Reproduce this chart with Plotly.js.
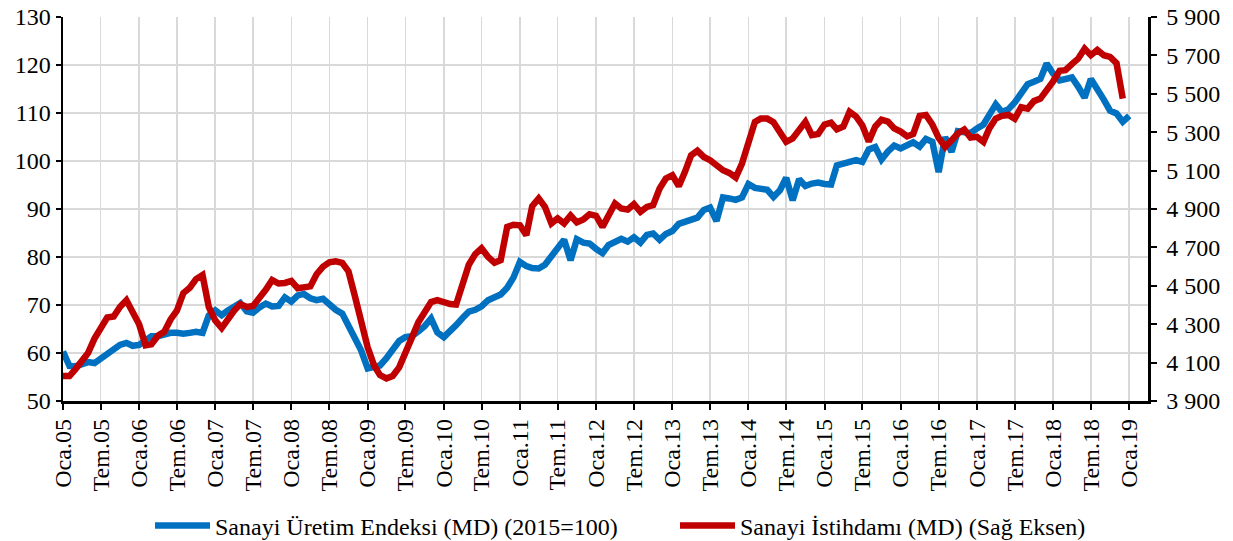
<!DOCTYPE html>
<html>
<head>
<meta charset="utf-8">
<script src="https://cdn.plot.ly/plotly-3.0.1.min.js"></script>
<style>
  html, body { margin: 0; padding: 0; background: #fff; }
  #chart { width: 1233px; height: 541px; }
</style>
</head>
<body>
<div id="chart"></div>
<script>
// Monthly series, starting January 2005
const startYear = 2005;

// Sanayi Üretim Endeksi (MD) (2015=100) — left axis
const sanayiUretim = [
  60.3, 57.3, 57.2, 57.6, 58.1, 57.9, 58.9, 60.0, 60.7, 61.7, 62.1, 61.5,
  61.7, 62.6, 63.5, 63.5, 64.0, 64.2, 64.2, 64.0, 64.2, 64.4, 64.2, 67.8,
  68.9, 67.9, 68.8, 69.8, 70.4, 68.7, 68.4, 69.5, 70.3, 69.7, 69.8, 71.6,
  70.7, 72.0, 72.3, 71.4, 71.0, 71.3, 70.0, 69.0, 68.2, 65.5, 63.0, 60.5,
  56.8, 57.2, 57.4, 58.9, 60.7, 62.5, 63.3, 63.5, 64.5, 65.6, 67.2, 64.3,
  63.3, 64.5, 65.8, 67.3, 68.6, 69.0, 69.7, 71.0, 71.5, 72.2, 73.6, 75.7,
  79.0, 78.1, 77.7, 77.6, 78.4, 80.0, 81.8, 83.6, 79.3, 83.7, 83.0, 82.8,
  81.7, 80.8, 82.5, 83.3, 83.8, 83.2, 84.1, 83.0, 84.6, 84.9, 83.6, 84.8,
  85.4, 86.9, 87.2, 87.8, 88.2, 89.8, 90.3, 87.5, 92.4, 92.2, 91.9, 92.4,
  95.2, 94.4, 94.3, 94.0, 92.5, 93.9, 96.5, 91.8, 96.2, 94.8, 95.3, 95.5,
  95.2, 95.1, 99.1, 99.4, 99.9, 100.2, 99.8, 102.4, 102.9, 100.3, 102.0, 103.2,
  102.6, 103.4, 103.9, 103.0, 104.6, 104.0, 97.7, 105.0, 101.9, 106.2, 106.0, 105.8,
  106.8, 107.6, 109.6, 111.8, 110.2, 110.8, 112.2, 114.4, 116.0, 116.5, 117.1, 120.3,
  118.2, 116.8, 117.0, 117.4, 115.5, 113.2, 117.1, 115.2, 112.8, 110.5, 109.9, 108.2,
  109.4
];

// Sanayi İstihdamı (MD) (Sağ Eksen) — right axis
const sanayiIstihdam = [
  4030, 4030, 4065, 4115, 4150, 4225, 4280, 4335, 4340, 4390, 4425, 4370,
  4300, 4190, 4195, 4240, 4260, 4325, 4370, 4462, 4490, 4535, 4556, 4390,
  4320, 4280, 4330, 4370, 4405, 4390, 4395, 4435, 4480, 4530, 4512, 4515,
  4525, 4487, 4495, 4497, 4560, 4600, 4622, 4628, 4620, 4575, 4445, 4320,
  4180, 4085, 4035, 4018, 4030, 4075, 4160, 4230, 4310, 4360, 4415, 4425,
  4412, 4405, 4402, 4500, 4610, 4665, 4695, 4651, 4620, 4634, 4807, 4818,
  4815, 4764, 4915, 4955, 4911, 4825, 4851, 4825, 4866, 4830, 4845, 4873,
  4865, 4807, 4859, 4929, 4903, 4897, 4925, 4885, 4911, 4920, 5007, 5059,
  5076, 5019, 5090, 5180, 5203, 5171, 5154, 5128, 5102, 5088, 5064, 5137,
  5241, 5354, 5371, 5371, 5352, 5300, 5250, 5267, 5310, 5354, 5285, 5290,
  5340, 5350, 5315, 5330, 5406, 5382, 5336, 5252, 5330, 5365, 5355, 5320,
  5303, 5278, 5290, 5385, 5390, 5340, 5270, 5223, 5258, 5293, 5314, 5272,
  5276, 5250, 5320, 5371, 5385, 5390, 5370, 5430, 5423, 5462, 5475, 5515,
  5565, 5620, 5623, 5655, 5683, 5735, 5701, 5728, 5701, 5692, 5660, 5475
];

const tickMonthNames = ['Oca', 'Tem'];   // January, July
const tickFirstYear = 2005;
const tickLastYear = 2019;

const legendNames = ['Sanayi Üretim Endeksi (MD) (2015=100)', 'Sanayi İstihdamı (MD) (Sağ Eksen)'];

function monthDate(i) {
  const y = startYear + Math.floor(i / 12);
  const m = (i % 12) + 1;
  return y + '-' + String(m).padStart(2, '0') + '-01';
}
const xIpi = sanayiUretim.map((_, i) => monthDate(i));
const xEmp = sanayiIstihdam.map((_, i) => monthDate(i));

const tickvals = [], ticktext = [];
for (let y = tickFirstYear; y <= tickLastYear; y++) {
  tickvals.push(y + '-01-01'); ticktext.push(tickMonthNames[0] + '.' + String(y).slice(2));
  if (y < tickLastYear) { tickvals.push(y + '-07-01'); ticktext.push(tickMonthNames[1] + '.' + String(y).slice(2)); }
}

const FONT = '"Liberation Serif", "Times New Roman", Times, serif';
const TXT = { family: FONT, size: 24, color: '#000000' };

const traces = [
  {
    x: xIpi, y: sanayiUretim, name: legendNames[0], type: 'scatter', mode: 'lines',
    line: { color: '#0070C0', width: 6.5, shape: 'linear' }, yaxis: 'y', legend: 'legend'
  },
  {
    x: xEmp, y: sanayiIstihdam, name: legendNames[1], type: 'scatter', mode: 'lines',
    line: { color: '#C00000', width: 6.5, shape: 'linear' }, yaxis: 'y2', legend: 'legend2'
  }
];

const layout = {
  width: 1233, height: 541,
  margin: { l: 63, r: 85, t: 17, b: 140, pad: 0 },
  paper_bgcolor: '#ffffff', plot_bgcolor: '#ffffff',
  font: TXT,
  separators: ', ',
  showlegend: true,
  legend: {
    orientation: 'h', xref: 'container', yref: 'container',
    x: 150 / 1233, y: 0.028, xanchor: 'left', yanchor: 'middle',
    itemwidth: 55,
    font: TXT, bgcolor: 'rgba(0,0,0,0)'
  },
  legend2: {
    orientation: 'h', xref: 'container', yref: 'container',
    x: 675 / 1233, y: 0.028, xanchor: 'left', yanchor: 'middle',
    itemwidth: 55,
    font: TXT, bgcolor: 'rgba(0,0,0,0)'
  },
  xaxis: {
    type: 'date', range: ['2005-01-01', '2019-04-01'],
    tickmode: 'array', tickvals: tickvals, ticktext: ticktext, tickangle: -90,
    showgrid: true, gridcolor: '#D9D9D9', gridwidth: 1.5,
    showline: true, linecolor: '#000000', linewidth: 2.5,
    ticks: 'outside', ticklen: 6, tickwidth: 2, tickcolor: '#000000',
    zeroline: false, fixedrange: true, tickfont: TXT
  },
  yaxis: {
    range: [50, 130], tick0: 50, dtick: 10,
    showgrid: true, gridcolor: '#D9D9D9', gridwidth: 2,
    showline: true, linecolor: '#000000', linewidth: 2.5,
    ticks: 'outside', ticklen: 5, tickwidth: 2, tickcolor: '#000000',
    zeroline: false, fixedrange: true, tickfont: TXT
  },
  yaxis2: {
    range: [3900, 5900], tick0: 3900, dtick: 200,
    overlaying: 'y', side: 'right', anchor: 'x',
    showgrid: false, showline: true, linecolor: '#000000', linewidth: 2.5,
    ticks: 'outside', ticklen: 6, tickwidth: 2, tickcolor: '#000000',
    separatethousands: true, zeroline: false, fixedrange: true,
    ticklabelstandoff: 5, tickfont: TXT
  }
};

Plotly.newPlot('chart', traces, layout, { displayModeBar: false, staticPlot: true });
</script>
</body>
</html>
